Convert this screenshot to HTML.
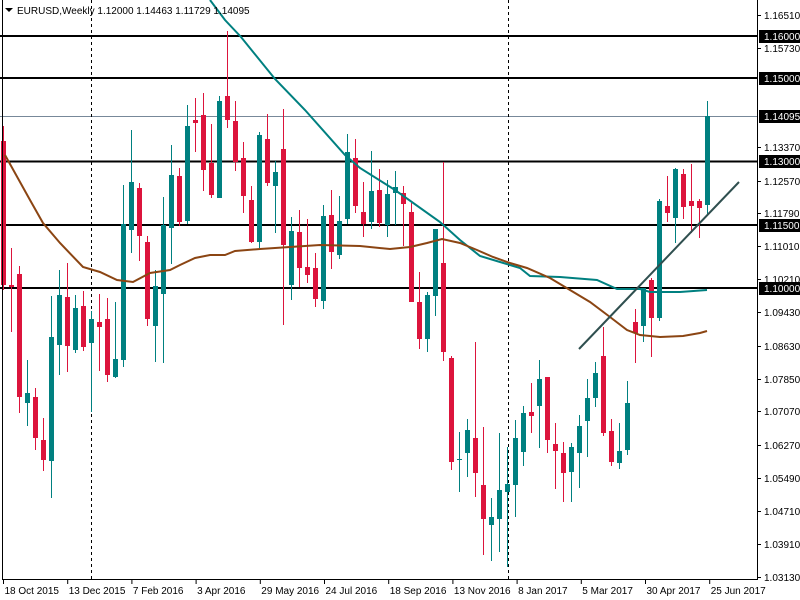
<!DOCTYPE html>
<html><head><meta charset="utf-8"><style>
body{margin:0;background:#fff;}
svg{display:block;font-family:"Liberation Sans",sans-serif;}
</style></head><body>
<svg id="c" width="800" height="600" xmlns="http://www.w3.org/2000/svg">
<rect width="800" height="600" fill="#fff"/>
<g id="grid"></g>
<line x1="0" y1="116.5" x2="757" y2="116.5" stroke="#778899" stroke-width="1"/>
<g stroke="#000" stroke-width="2">
<line x1="0" y1="36" x2="757" y2="36"/><line x1="0" y1="78" x2="757" y2="78"/>
<line x1="0" y1="161.5" x2="757" y2="161.5"/><line x1="0" y1="225" x2="757" y2="225"/>
<line x1="0" y1="288" x2="757" y2="288"/>
</g>
<g stroke="#000" stroke-width="1" stroke-dasharray="3,3">
<line x1="91.5" y1="0" x2="91.5" y2="579"/><line x1="508.5" y1="0" x2="508.5" y2="579"/>
</g>
<g id="cd"></g>
<polyline fill="none" stroke="#008080" stroke-width="2" points="210,0 225,20 241,37 275,79 305,110 345,155 360,168 395,190 440,222 460,240 480,256 500,262 520,268 530,276 560,277 597,280 617,289 640,289 650,292 680,292 707,290"/>
<polyline fill="none" stroke="#8b4513" stroke-width="2" points="5,155 30,200 43,223 60,243 83,267 100,272 117,280 133,282 150,273 170,270 180,265 195,258 210,255 225,255 235,251 260,249 290,247 320,245 360,246 390,249 410,247 427,243 442,239 460,243 477,250 493,257 510,263 527,268 550,278 570,290 590,302 610,317 627,330 640,335 660,337 683,336 700,333 707,331"/>
<line x1="579" y1="349" x2="739" y2="182" stroke="#2f4f4f" stroke-width="2"/>
<rect x="758" y="0" width="42" height="600" fill="#fff"/>
<line x1="757.5" y1="0" x2="757.5" y2="580" stroke="#000"/>
<line x1="2.5" y1="0" x2="2.5" y2="580" stroke="#000"/>
<line x1="2" y1="579.5" x2="758" y2="579.5" stroke="#000"/>
<g id="ax" font-size="10" fill="#000"></g>
<polygon points="5,8 13,8 9,12" fill="#000"/>
<text x="17" y="14" font-size="10" fill="#000">EURUSD,Weekly  1.12000 1.14463 1.11729 1.14095</text>
</svg>
<script>
var NS="http://www.w3.org/2000/svg";
function el(p,t,a,txt){var e=document.createElementNS(NS,t);for(var k in a)e.setAttribute(k,a[k]);if(txt!=null)e.textContent=txt;p.appendChild(e);return e;}
var D=[
['r',141,285,126,290],['r',285,287,248,332],['r',274,397,266,413],['g',393,403,360,426],['r',397,438,388,450],
['r',440,460,418,471],['g',337,461,296,498],['g',295,345,270,375],['r',297,346,263,372],['g',308,350,295,353],
['r',306,347,291,351],['g',319,343,311,412],['r',322,327,294,371],['r',319,375,298,382],['g',359,377,302,378],
['g',224,360,185,367],['g',182,230,130,253],['r',188,236,183,261],['r',242,319,236,326],['g',286,326,270,362],
['g',225,294,197,363],['g',175,228,145,264],['r',176,222,168,226],['g',126,221,105,224],['r',120,123,98,152],
['r',115,170,93,191],['r',163,195,124,198],['g',101,198,96,198],['r',96,120,31,128],['r',121,162,101,171],
['r',158,196,142,213],['r',200,242,186,243],['g',135,242,132,248],['r',139,183,114,186],['g',172,186,161,233],
['r',149,245,109,325],['g',231,285,217,300],['r',232,268,210,287],['r',267,275,219,283],['r',268,299,253,307],
['g',216,301,205,309],['r',215,252,190,269],['g',221,255,196,259],['g',152,219,134,224],['r',158,206,139,213],
['r',212,224,182,237],['g',191,222,151,229],['r',190,223,169,227],['g',194,225,180,237],['g',187,193,171,225],
['r',193,204,186,246],['r',212,302,203,302],['r',302,339,272,349],['g',295,339,292,352],['g',229,296,229,316],
['r',263,352,162,361],['r',358,462,356,470],['g',459,460,432,492],['g',430,453,419,477],['r',438,473,342,497],
['r',485,519,427,555],['g',517,525,498,561],['g',490,519,433,552],['g',484,492,447,567],['g',438,485,420,517],
['g',413,452,406,466],['r',412,416,383,433],['g',379,406,360,448],['r',377,440,377,453],['r',444,451,423,489],
['r',453,473,442,502],['g',447,472,443,502],['g',426,453,415,488],['g',398,421,379,457],['g',373,398,362,407],
['r',356,433,327,436],['r',431,462,419,466],['g',451,463,423,469],['g',403,450,381,455],['r',322,333,309,363],
['g',288,326,288,342],['r',280,318,278,357],['g',201,318,199,321],['r',206,213,176,222],['g',169,218,168,243],
['r',174,207,169,219],['r',201,206,164,233],['r',201,208,199,238],['g',116,205,101,215]];
var cd=document.getElementById('cd');
D.forEach(function(d,i){var x=3+8*i;var c=d[0]=='r'?'#dc143c':'#008080';
el(cd,'line',{x1:x+0.5,x2:x+0.5,y1:d[3],y2:d[4],stroke:c,'stroke-width':1});
el(cd,'rect',{x:x-2,y:d[1],width:5,height:Math.max(1,d[2]-d[1]),fill:c});});
var ax=document.getElementById('ax');
var L=[[15,'1.16510'],[48,'1.15730'],[147,'1.13370'],[181,'1.12570'],[213,'1.11790'],[246,'1.11010'],[279,'1.10210'],[312,'1.09430'],[346,'1.08630'],[379,'1.07850'],[411,'1.07070'],[445,'1.06270'],[478,'1.05490'],[511,'1.04710'],[544,'1.03910'],[577,'1.03130']];
L.forEach(function(l){el(ax,'line',{x1:757,x2:761,y1:l[0]+.5,y2:l[0]+.5,stroke:'#000'});el(ax,'text',{x:764,y:l[0]+4},l[1]);});
var H=[[36,'1.16000'],[78,'1.15000'],[116,'1.14095'],[161,'1.13000'],[225,'1.11500'],[288,'1.10000']];
H.forEach(function(l){el(ax,'rect',{x:759,y:l[0]-6,width:41,height:13,fill:'#000'});el(ax,'text',{x:764,y:l[0]+4,fill:'#fff'},l[1]);});
var T=['18 Oct 2015','13 Dec 2015','7 Feb 2016','3 Apr 2016','29 May 2016','24 Jul 2016','18 Sep 2016','13 Nov 2016','8 Jan 2017','5 Mar 2017','30 Apr 2017','25 Jun 2017'];
T.forEach(function(t,k){var x=3.5+64.2*k;el(ax,'line',{x1:x,x2:x,y1:579,y2:584,stroke:'#000'});el(ax,'text',{x:x+1,y:594},t);});
</script>
</body></html>
